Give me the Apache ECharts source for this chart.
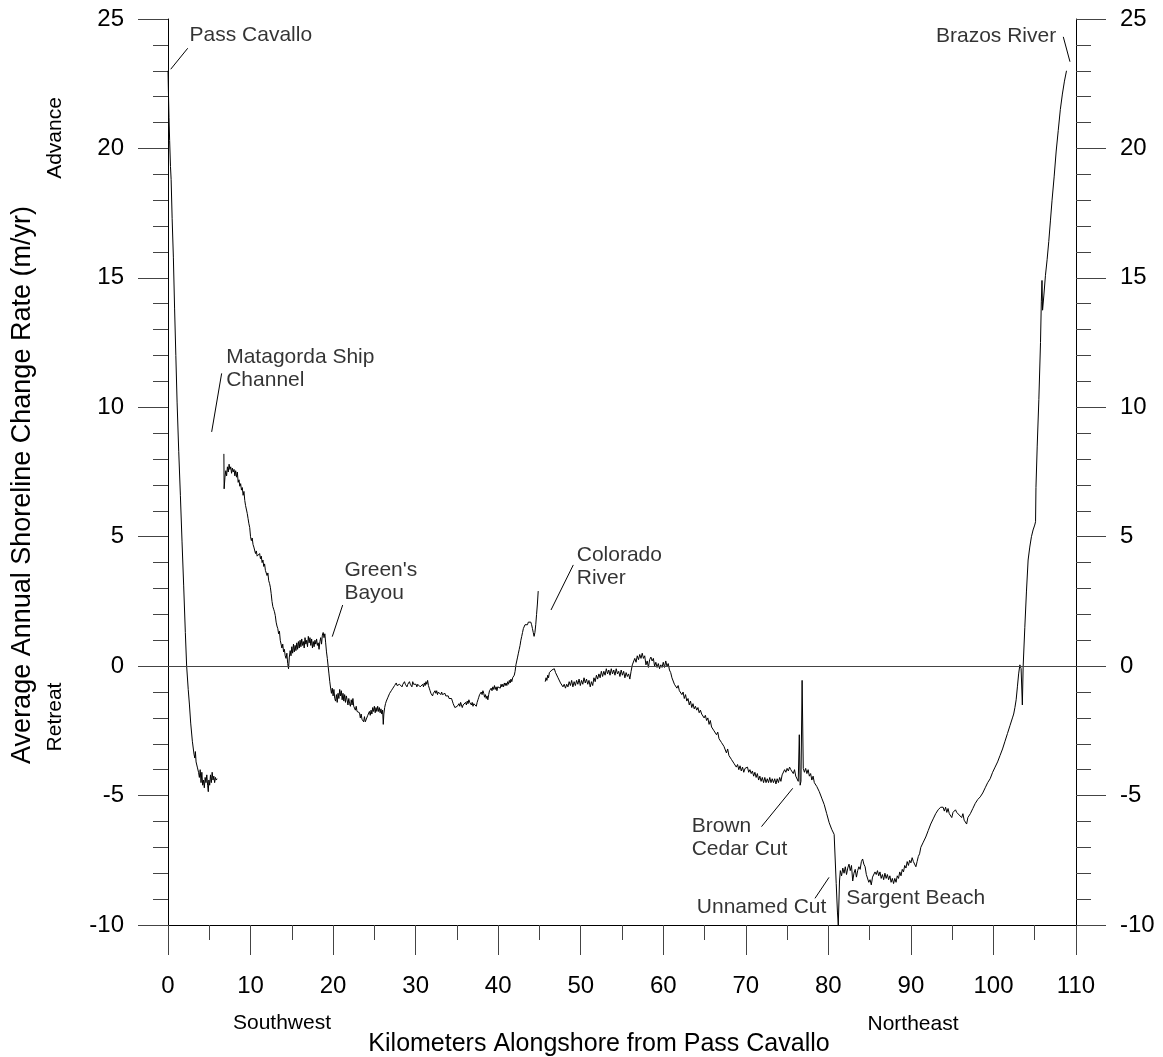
<!DOCTYPE html>
<html>
<head>
<meta charset="utf-8">
<script src="https://cdn.jsdelivr.net/npm/echarts@6/dist/echarts.min.js"></script>
<style>
html,body{margin:0;padding:0;background:#fff;}
#chart{width:1163px;height:1057px;}
</style>
</head>
<body>
<div id="chart"></div>
<script>
// ---------- DATA (km alongshore, rate m/yr) ----------
var xTicks = [0, 110, 10];          // min, max, interval
var yTicks = [-10, 25, 5];

var segPassCavallo = [
[0,23.0],[0.05,22.2],[0.12,21.2],[0.2,20.3],[0.3,19.3],[0.38,18.8],[0.5,17.3],[0.65,15.8],[0.8,13.8],[0.95,12.0],
[1.1,10.2],[1.3,8.3],[1.5,6.6],[1.7,4.8],[1.9,3.1],[2.1,1.3],[2.26,0.0],[2.45,-0.9],[2.6,-1.5],[2.75,-2.2],
[2.95,-2.9],[3.15,-3.4],[3.25,-3.55],[3.32,-3.3],[3.4,-3.7],[3.55,-3.9],[3.7,-4.1],[3.8,-4.3],[3.9,-4.0],[4.0,-4.5],
[4.1,-4.1],[4.2,-4.6],[4.3,-4.4],[4.4,-4.7],[4.5,-4.3],[4.6,-4.5],[4.7,-4.2],[4.8,-4.6],[4.88,-4.85],[4.95,-4.4],
[5.05,-4.6],[5.15,-4.2],[5.25,-4.5],[5.35,-4.1],[5.45,-4.4],[5.55,-4.25],[5.65,-4.5],[5.75,-4.3],[5.85,-4.4],[5.95,-4.35]
];

var segMatagorda = [
[6.77,8.2],[6.8,6.85],[6.9,7.3],[7.0,7.55],[7.1,7.35],[7.2,7.7],[7.3,7.5],[7.4,7.8],[7.5,7.6],[7.6,7.7],
[7.7,7.45],[7.8,7.65],[7.9,7.5],[8.0,7.6],[8.1,7.35],[8.2,7.55],[8.3,7.3],[8.4,7.5],[8.5,7.1],[8.6,7.2],
[8.7,6.95],[8.8,7.05],[8.9,6.8],[9.0,6.9],[9.1,6.6],[9.2,6.75],[9.3,6.4],[9.4,6.2],[9.5,6.25],[9.6,5.9],
[9.7,5.7],[9.8,5.5],[9.9,5.35],[10.0,5.0],[10.1,4.85],[10.2,4.95],[10.3,4.7],[10.4,4.6],[10.5,4.55],[10.6,4.35],
[10.7,4.45],[10.8,4.25],[10.9,4.3],[11.0,4.2],[11.1,4.35],[11.2,4.15],[11.3,4.25],[11.4,4.0],[11.5,4.1],[11.6,3.85],
[11.7,3.95],[11.8,3.7],[11.9,3.75],[12.0,3.5],[12.1,3.6],[12.2,3.3],[12.3,3.2],[12.4,3.05],[12.5,2.8],[12.6,2.5],
[12.7,2.3],[12.8,2.2],[12.9,2.1],[13.0,1.95],[13.1,1.7],[13.2,1.55],[13.3,1.45],[13.4,1.25],[13.5,1.35],[13.6,1.0],
[13.7,0.95],[13.8,0.7],[13.9,0.85],[14.0,0.55],[14.1,0.65],[14.2,0.4],[14.3,0.3],[14.4,0.5],[14.5,0.1],[14.6,-0.1],
[14.7,0.35],[14.8,0.6],[14.9,0.4],[15.0,0.75],[15.1,0.5],[15.2,0.85],[15.3,0.55],[15.4,0.8],[15.5,0.6],[15.6,0.9],
[15.7,0.65],[15.8,0.95],[15.9,0.7],[16.0,1.0],[16.1,0.75],[16.2,1.05],[16.3,0.8],[16.4,0.95],[16.5,0.7],[16.6,1.1],
[16.7,0.85],[16.8,1.0],[16.9,0.75],[17.0,1.15],[17.1,0.9],[17.2,1.1],[17.3,0.8],[17.4,1.05],[17.5,0.7],[17.6,0.95],
[17.7,0.75],[17.8,1.0],[17.9,0.85],[18.0,1.05],[18.1,0.8],[18.2,0.9],[18.3,0.65],[18.4,0.95],[18.5,1.1],[18.6,0.85],
[18.7,1.2],[18.8,1.3],[18.9,1.1],[19.0,1.25],[19.1,0.9],[19.2,0.55],[19.3,0.3],[19.4,0.0],[19.5,-0.3],[19.6,-0.6],
[19.7,-0.85],[19.8,-1.05],[19.9,-0.85],[20.0,-1.15],[20.1,-0.9],[20.2,-1.25],[20.3,-1.35],[20.4,-1.1],[20.5,-1.4],[20.6,-1.05],
[20.7,-1.25],[20.8,-0.9],[20.9,-1.15],[21.0,-0.95],[21.1,-1.3],[21.2,-1.05],[21.3,-1.35],[21.4,-1.1],[21.5,-1.4],[21.6,-1.15],
[21.7,-1.3],[21.8,-1.5],[21.9,-1.25],[22.0,-1.45],[22.1,-1.55],[22.2,-1.3],[22.3,-1.5],[22.4,-1.25],[22.5,-1.55],[22.6,-1.5],
[22.7,-1.7],[22.8,-1.55],[22.9,-1.75],[23.0,-1.75],[23.1,-1.8],[23.2,-1.8],[23.3,-2.0],[23.4,-1.85],[23.5,-2.05],[23.6,-2.0],
[23.7,-2.15],[23.8,-1.95],[23.9,-2.15],[24.0,-2.1],[24.1,-2.1],[24.2,-1.9],[24.3,-1.95],[24.4,-1.75],[24.5,-1.9],[24.6,-1.7],
[24.7,-1.85],[24.8,-1.6],[24.9,-1.75],[25.0,-1.55],[25.1,-1.8],[25.2,-1.6],[25.3,-1.75],[25.4,-1.55],[25.5,-1.75],[25.6,-1.6],
[25.7,-1.8],[25.8,-1.65],[25.9,-1.85],[26.0,-1.7],[26.08,-2.25],[26.15,-1.85],[26.25,-1.6],[26.35,-1.45],[26.45,-1.35],[26.55,-1.4],
[26.65,-1.2],[26.75,-1.25],[26.85,-1.05],[26.95,-1.1],[27.05,-0.95],[27.15,-1.0],[27.25,-0.85],[27.35,-0.9],[27.45,-0.75],[27.55,-0.8],
[27.65,-0.65],[27.75,-0.75],[27.85,-0.7],[27.95,-0.8],[28.05,-0.7],[28.15,-0.75],[28.25,-0.65],[28.35,-0.8],[28.45,-0.7],[28.55,-0.75],
[28.65,-0.6],[28.75,-0.7],[28.85,-0.65],[28.95,-0.8],[29.05,-0.7],[29.15,-0.75],[29.25,-0.6],[29.35,-0.7],[29.45,-0.65],[29.55,-0.8],
[29.65,-0.6],[29.75,-0.7],[29.85,-0.65],[29.95,-0.75],[30.05,-0.7],[30.15,-0.8],[30.25,-0.7],[30.35,-0.75],[30.45,-0.65],[30.55,-0.8],
[30.65,-0.75],[30.75,-0.85],[30.85,-0.7],[30.95,-0.8],[31.05,-0.65],[31.15,-0.75],[31.25,-0.6],[31.35,-0.7],[31.45,-0.55],[31.55,-0.75],
[31.65,-0.85],[31.75,-0.95],[31.85,-1.05],[31.95,-1.0],[32.05,-1.15],[32.15,-1.05],[32.25,-1.1],[32.35,-0.95],[32.45,-1.05],[32.55,-0.95],
[32.65,-1.1],[32.75,-1.0],[32.85,-1.05],[32.95,-0.95],[33.05,-1.1],[33.15,-1.0],[33.25,-1.1],[33.35,-1.05],[33.45,-1.15],[33.55,-1.05],
[33.65,-1.15],[33.75,-1.1],[33.85,-1.2],[33.95,-1.15],[34.05,-1.25],[34.15,-1.2],[34.25,-1.3],[34.35,-1.25],[34.45,-1.35],[34.55,-1.45],
[34.65,-1.5],[34.75,-1.6],[34.85,-1.55],[34.95,-1.65],[35.05,-1.55],[35.15,-1.6],[35.25,-1.45],[35.35,-1.55],[35.45,-1.4],[35.55,-1.5],
[35.65,-1.6],[35.75,-1.5],[35.85,-1.45],[35.95,-1.55],[36.05,-1.4],[36.15,-1.5],[36.25,-1.35],[36.35,-1.45],[36.45,-1.3],[36.55,-1.4],
[36.65,-1.35],[36.75,-1.5],[36.85,-1.4],[36.95,-1.55],[37.05,-1.45],[37.15,-1.5],[37.25,-1.4],[37.35,-1.55],[37.45,-1.4],[37.55,-1.3],
[37.65,-1.2],[37.75,-1.1],[37.85,-1.15],[37.95,-1.0],[38.05,-1.1],[38.15,-0.95],[38.25,-1.05],[38.35,-1.2],[38.45,-1.1],[38.55,-1.25],
[38.65,-1.15],[38.75,-1.3],[38.85,-1.1],[38.95,-0.95],[39.05,-1.0],[39.15,-0.85],[39.25,-0.95],[39.35,-0.8],[39.45,-0.9],[39.55,-0.75],
[39.65,-0.9],[39.75,-0.8],[39.85,-0.95],[39.95,-0.8],[40.05,-0.85],[40.15,-0.75],[40.25,-0.85],[40.35,-0.7],[40.45,-0.8],[40.55,-0.7],
[40.65,-0.8],[40.75,-0.65],[40.85,-0.75],[40.95,-0.65],[41.05,-0.75],[41.15,-0.6],[41.25,-0.7],[41.35,-0.55],[41.45,-0.65],[41.55,-0.5],
[41.65,-0.6],[41.75,-0.45],[41.85,-0.5],[41.95,-0.35],[42.05,-0.2],[42.15,0.05],[42.25,0.2],[42.35,0.35],[42.45,0.5],[42.55,0.65],
[42.65,0.8],[42.75,1.0],[42.85,1.15],[42.95,1.3],[43.05,1.45],[43.15,1.5],[43.25,1.6],[43.35,1.55],[43.45,1.65],[43.55,1.6],
[43.65,1.7],[43.75,1.65],[43.85,1.75],[43.95,1.7],[44.05,1.6],[44.15,1.45],[44.25,1.3],[44.35,1.15],[44.45,1.3],[44.55,1.6],
[44.65,2.0],[44.75,2.4],[44.85,2.9]
];

var segColoradoToBrazos = [
[45.7,-0.6],[45.8,-0.45],[45.9,-0.55],[46.0,-0.35],[46.1,-0.45],[46.2,-0.25],[46.35,-0.3],[46.5,-0.15],[46.65,-0.2],[46.8,-0.1],
[46.95,-0.25],[47.1,-0.2],[47.25,-0.45],[47.4,-0.4],[47.55,-0.65],[47.7,-0.6],[47.85,-0.8],[48.0,-0.7],[48.15,-0.85],[48.3,-0.7],
[48.45,-0.8],[48.6,-0.6],[48.75,-0.75],[48.9,-0.55],[49.05,-0.8],[49.2,-0.6],[49.35,-0.75],[49.5,-0.55],[49.65,-0.7],[49.8,-0.5],
[49.95,-0.75],[50.1,-0.55],[50.25,-0.7],[50.4,-0.45],[50.55,-0.65],[50.7,-0.5],[50.85,-0.7],[51.0,-0.55],[51.15,-0.8],[51.3,-0.6],
[51.45,-0.75],[51.6,-0.45],[51.75,-0.6],[51.9,-0.35],[52.05,-0.5],[52.2,-0.3],[52.35,-0.45],[52.5,-0.2],[52.65,-0.4],[52.8,-0.2],
[52.95,-0.35],[53.1,-0.1],[53.25,-0.3],[53.4,-0.15],[53.55,-0.35],[53.7,-0.1],[53.85,-0.3],[54.0,-0.15],[54.15,-0.35],[54.3,-0.1],
[54.45,-0.3],[54.6,-0.2],[54.75,-0.4],[54.9,-0.15],[55.05,-0.35],[55.2,-0.2],[55.35,-0.45],[55.5,-0.25],[55.65,-0.4],[55.8,-0.3],
[55.95,-0.5],[56.1,-0.2],[56.25,0.05],[56.4,0.1],[56.55,0.3],[56.7,0.15],[56.85,0.4],[57.0,0.25],[57.15,0.45],[57.3,0.3],
[57.45,0.5],[57.6,0.3],[57.75,0.4],[57.9,0.05],[58.05,0.2],[58.2,-0.05],[58.35,0.25],[58.5,0.35],[58.65,0.2],[58.8,0.3],
[58.95,0.0],[59.1,0.15],[59.25,-0.05],[59.4,0.1],[59.55,-0.1],[59.7,0.05],[59.85,-0.05],[60.0,0.15],[60.15,-0.05],[60.3,0.2],
[60.45,0.0],[60.6,0.1],[60.75,-0.15],[60.9,-0.25],[61.05,-0.45],[61.2,-0.5],[61.35,-0.7],[61.5,-0.65],[61.65,-0.85],[61.8,-0.75],
[61.95,-0.95],[62.1,-0.9],[62.25,-1.1],[62.4,-1.0],[62.55,-1.25],[62.7,-1.1],[62.85,-1.35],[63.0,-1.25],[63.15,-1.5],[63.3,-1.35],
[63.45,-1.6],[63.6,-1.45],[63.75,-1.65],[63.9,-1.55],[64.05,-1.7],[64.2,-1.6],[64.35,-1.8],[64.5,-1.7],[64.65,-1.85],[64.8,-1.8],
[64.95,-2.0],[65.1,-1.9],[65.25,-2.1],[65.4,-2.0],[65.55,-2.25],[65.7,-2.1],[65.85,-2.35],[66.0,-2.3],[66.15,-2.5],[66.3,-2.45],
[66.45,-2.65],[66.6,-2.55],[66.75,-2.8],[66.9,-2.75],[67.05,-2.95],[67.2,-2.9],[67.35,-3.1],[67.5,-3.05],[67.65,-3.35],[67.8,-3.2],
[67.95,-3.45],[68.1,-3.4],[68.25,-3.6],[68.4,-3.55],[68.55,-3.75],[68.7,-3.7],[68.85,-3.9],[69.0,-3.8],[69.15,-4.0],[69.3,-3.85],
[69.45,-4.05],[69.6,-3.9],[69.75,-4.1],[69.9,-3.95],[70.05,-4.0],[70.2,-3.9],[70.35,-4.1],[70.5,-4.0],[70.65,-4.15],[70.8,-4.05],
[70.95,-4.25],[71.1,-4.1],[71.25,-4.3],[71.4,-4.15],[71.55,-4.4],[71.7,-4.25],[71.85,-4.45],[72.0,-4.3],[72.15,-4.5],[72.3,-4.3],
[72.45,-4.5],[72.6,-4.35],[72.75,-4.5],[72.9,-4.3],[73.05,-4.5],[73.2,-4.35],[73.35,-4.5],[73.5,-4.35],[73.65,-4.55],[73.8,-4.35],
[73.95,-4.5],[74.1,-4.3],[74.25,-4.45],[74.4,-4.2],[74.55,-4.2],[74.7,-4.0],[74.85,-4.1],[75.0,-3.95],[75.15,-4.05],[75.3,-3.9],
[75.45,-4.0],[75.6,-3.95],[75.75,-4.15],[75.9,-4.0],[76.05,-4.25],[76.2,-4.3],[76.35,-4.45],[76.48,-2.65],[76.58,-4.6],[76.68,-4.45],
[76.82,-0.55],[76.96,-3.95],[77.1,-4.1],[77.25,-3.95],[77.4,-4.15],[77.55,-4.0],[77.7,-4.25],[77.85,-4.15],[78.0,-4.4],[78.15,-4.25],
[78.3,-4.5],[78.45,-4.45],[78.6,-4.65],[78.75,-4.6],[78.9,-4.85],[79.05,-4.8],[79.2,-5.1],[79.35,-5.05],[79.5,-5.35],[79.65,-5.4],
[79.8,-5.7],[79.95,-5.75],[80.1,-6.05],[80.25,-6.0],[80.4,-6.3],[80.55,-6.25],[80.7,-6.5],[80.8,-6.55],[80.95,-8.4],[81.1,-9.5],
[81.2,-10.0],[81.35,-8.3],[81.45,-7.9],[81.6,-8.1],[81.75,-7.8],[81.9,-8.0],[82.05,-7.75],[82.2,-8.05],[82.35,-7.8],[82.5,-7.65],
[82.65,-7.9],[82.8,-7.7],[82.95,-8.3],[83.1,-8.0],[83.25,-7.85],[83.4,-8.15],[83.55,-7.9],[83.7,-7.75],[83.85,-7.85],[84.0,-7.55],
[84.15,-7.45],[84.3,-7.65],[84.45,-7.75],[84.6,-8.05],[84.75,-8.1],[84.9,-8.35],[85.05,-8.25],[85.2,-8.45],[85.35,-8.15],[85.5,-8.2],
[85.65,-7.95],[85.8,-8.05],[85.95,-7.9],[86.1,-8.1],[86.25,-7.95],[86.4,-8.2],[86.55,-8.05],[86.7,-8.25],[86.85,-8.0],[87.0,-8.2],
[87.15,-8.05],[87.3,-8.25],[87.45,-8.1],[87.6,-8.35],[87.75,-8.2],[87.9,-8.4],[88.05,-8.2],[88.2,-8.35],[88.35,-8.1],[88.5,-8.2],
[88.65,-7.95],[88.8,-8.1],[88.95,-7.85],[89.1,-7.95],[89.25,-7.7],[89.4,-7.8],[89.55,-7.55],[89.7,-7.7],[89.85,-7.5],[90.0,-7.6],
[90.15,-7.4],[90.3,-7.55],[90.45,-7.5],[90.6,-7.75],[90.75,-7.55],[90.9,-7.35],[91.05,-7.25],[91.2,-7.0],[91.35,-7.0],[91.5,-6.8],
[91.65,-6.8],[91.8,-6.6],[91.95,-6.6],[92.1,-6.35],[92.25,-6.35],[92.4,-6.1],[92.55,-6.1],[92.7,-5.9],[92.85,-5.9],[93.0,-5.7],
[93.15,-5.75],[93.3,-5.55],[93.45,-5.6],[93.6,-5.45],[93.75,-5.5],[93.9,-5.45],[94.05,-5.6],[94.2,-5.45],[94.35,-5.65],[94.5,-5.5],
[94.65,-5.7],[94.8,-5.7],[94.95,-5.85],[95.1,-5.65],[95.25,-5.65],[95.4,-5.55],[95.55,-5.65],[95.7,-5.6],[95.85,-5.75],[96.0,-5.7],
[96.15,-5.85],[96.3,-5.7],[96.45,-5.95],[96.6,-5.9],[96.75,-6.1],[96.9,-5.85],[97.05,-5.9],[97.2,-5.7],[97.35,-5.75],[97.5,-5.5],
[97.65,-5.5],[97.8,-5.3],[97.95,-5.3],[98.1,-5.15],[98.25,-5.2],[98.4,-5.05],[98.55,-5.05],[98.7,-4.9],[98.85,-4.9],[99.0,-4.7],
[99.15,-4.7],[99.3,-4.5],[99.45,-4.5],[99.6,-4.35],[99.75,-4.35],[99.9,-4.1],[100.05,-4.1],[100.2,-3.9],[100.35,-3.9],[100.5,-3.7],
[100.65,-3.7],[100.8,-3.45],[100.95,-3.45],[101.1,-3.2],[101.25,-3.15],[101.4,-2.9],[101.55,-2.85],[101.7,-2.6],[101.85,-2.55],[102.0,-2.3],
[102.15,-2.25],[102.3,-2.0],[102.45,-1.85],[102.6,-1.6],[102.75,-1.3],[102.9,-0.8],[103.05,-0.3],[103.2,0.05],[103.35,-0.1],[103.5,-1.5],
[103.6,0.0],[103.8,1.5],[104.0,2.9],[104.2,4.1],[104.4,4.6],[104.6,5.0],[104.8,5.26],[105.0,5.45],[105.1,5.58],[105.15,6.9],
[105.3,8.5],[105.5,10.3],[105.7,12.5],[105.8,14.1],[105.88,14.9],[105.95,13.75],[106.1,14.3],[106.3,15.1],[106.5,15.7],[106.7,16.4],
[106.9,17.2],[107.1,18.0],[107.35,18.9],[107.6,19.9],[107.85,20.7],[108.1,21.5],[108.35,22.1],[108.6,22.6],[108.85,23.0]
];

// annotation labels: text, km, rate, alignment
var placeNames  = ['Pass Cavallo', 'Matagorda Ship\nChannel', "Green's\nBayou", 'Colorado\nRiver', 'Brown\nCedar Cut', 'Unnamed Cut', 'Sargent Beach', 'Brazos River'];
var placeKm     = [2.67, 7.11, 21.43, 49.58, 63.5, 64.12, 82.22, 107.66];
var placeRate   = [24.34, 11.46, 3.25, 3.84, -6.65, -9.32, -9.0, 24.3];
var placeAlign  = ['left', 'left', 'left', 'left', 'left', 'left', 'left', 'right'];
// leader lines: [km1, rate1, km2, rate2]
var leaderLines = [
  [2.39, 23.87, 0.33, 23.06],
  [6.5, 11.31, 5.29, 9.05],
  [21.16, 2.36, 19.9, 1.14],
  [49.1, 3.91, 46.4, 2.17],
  [75.68, -4.72, 71.9, -6.2],
  [80.08, -8.16, 78.38, -8.97],
  [108.46, 24.31, 109.27, 23.35]
];

var xTitle = 'Kilometers Alongshore from Pass Cavallo';
var yTitle = 'Average Annual Shoreline Change Rate (m/yr)';
var dirLabels = ['Southwest', 'Northeast', 'Advance', 'Retreat'];

// ---------- CHART ----------
var FONT = '"Liberation Sans", Arial, Helvetica, sans-serif';
var chart = echarts.init(document.getElementById('chart'), null, {renderer: 'canvas'});

function yAxisCfg(pos) {
  return {
    type: 'value', position: pos, min: yTicks[0], max: yTicks[1], interval: yTicks[2],
    axisLine: {show: true, onZero: false, lineStyle: {color: '#000', width: 1}},
    axisTick: {show: true, inside: false, length: 30, lineStyle: {color: '#444', width: 1}},
    minorTick: {show: true, splitNumber: 5, length: 15, lineStyle: {color: '#444', width: 1}},
    splitLine: {show: false},
    axisLabel: {show: true, margin: 44, fontSize: 24, color: '#000', fontFamily: FONT}
  };
}

var lineStyleMain = {color: '#000', width: 1};
function seg(data) {
  return {
    type: 'line', data: data, xAxisIndex: 0, yAxisIndex: 0,
    showSymbol: false, symbol: 'none', smooth: false, silent: true,
    lineStyle: lineStyleMain, clip: true, sampling: null
  };
}

var s2 = seg(segMatagorda);
s2.markLine = {
  silent: true, symbol: ['none', 'none'], animation: false,
  label: {show: false},
  lineStyle: {color: '#444', width: 1, type: 'solid'},
  data: [{yAxis: 0}]
};

var option = {
  animation: false,
  backgroundColor: '#fff',
  grid: {left: 168, right: 87, top: 19, bottom: 132, containLabel: false},
  xAxis: {
    type: 'value', min: xTicks[0], max: xTicks[1], interval: xTicks[2],
    axisLine: {show: true, onZero: false, lineStyle: {color: '#000', width: 1}},
    axisTick: {show: true, inside: false, length: 30, lineStyle: {color: '#444', width: 1}},
    minorTick: {show: true, splitNumber: 2, length: 15, lineStyle: {color: '#444', width: 1}},
    splitLine: {show: false},
    axisLabel: {show: true, margin: 49, fontSize: 24, color: '#000', fontFamily: FONT}
  },
  yAxis: [yAxisCfg('left'), yAxisCfg('right')],
  series: [
    seg(segPassCavallo),
    s2,
    seg(segColoradoToBrazos),
    {
      type: 'lines', coordinateSystem: 'cartesian2d', silent: true,
      lineStyle: {color: '#000', width: 1, opacity: 1},
      data: leaderLines.map(function (l) { return {coords: [[l[0], l[1]], [l[2], l[3]]]}; })
    },
    {
      type: 'scatter', silent: true, symbol: 'circle', symbolSize: 1, clip: false,
      itemStyle: {color: 'rgba(0,0,0,0)'},
      label: {
        show: true, position: [0, 0], verticalAlign: 'middle',
        fontSize: 21, lineHeight: 23, color: '#000', fontFamily: FONT,
        formatter: function (p) { return p.name; }
      },
      labelLayout: {hideOverlap: false},
      data: placeNames.map(function (n, i) {
        return {name: n, value: [placeKm[i], placeRate[i]], label: {align: placeAlign[i]}};
      })
    }
  ],
  graphic: [
    {type: 'text', x: 23, y: 485, rotation: Math.PI / 2,
     style: {text: yTitle, font: '27px ' + FONT, fill: '#000', textAlign: 'center', textVerticalAlign: 'middle'}},
    {type: 'text', x: 55, y: 138, rotation: Math.PI / 2,
     style: {text: dirLabels[2], font: '21px ' + FONT, fill: '#000', textAlign: 'center', textVerticalAlign: 'middle'}},
    {type: 'text', x: 55, y: 717, rotation: Math.PI / 2,
     style: {text: dirLabels[3], font: '21px ' + FONT, fill: '#000', textAlign: 'center', textVerticalAlign: 'middle'}},
    {type: 'text', x: 282, y: 1023,
     style: {text: dirLabels[0], font: '21px ' + FONT, fill: '#000', textAlign: 'center', textVerticalAlign: 'middle'}},
    {type: 'text', x: 913, y: 1024,
     style: {text: dirLabels[1], font: '21px ' + FONT, fill: '#000', textAlign: 'center', textVerticalAlign: 'middle'}},
    {type: 'text', x: 599, y: 1044,
     style: {text: xTitle, font: '25px ' + FONT, fill: '#000', textAlign: 'center', textVerticalAlign: 'middle'}}
  ]
};
chart.setOption(option);
</script>
</body>
</html>
